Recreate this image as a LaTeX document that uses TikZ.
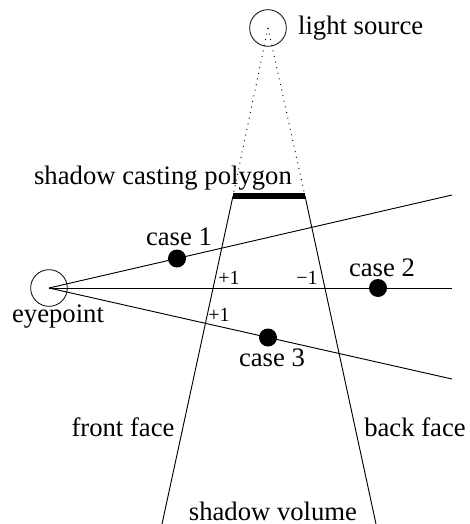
\documentclass[tikz,border=0pt]{standalone}
\usepackage{fontspec}
\setmainfont{Liberation Serif}
\usepackage{tikz}
\usetikzlibrary{positioning}

\begin{document}
\begin{tikzpicture}[
  x=0.75pt,y=-0.75pt,
  every node/.style={font=\fontsize{20}{24}\selectfont},
  lamp/.style={draw,circle,line width=0.6pt,minimum size=27.5pt,inner sep=0pt},
  dot/.style={circle,fill,inner sep=0pt,minimum size=13.5pt},
  sign/.style={font=\fontsize{15}{18}\selectfont,inner sep=1pt},
  ray/.style={line width=0.7pt},
  beam/.style={line width=0.7pt,dash pattern=on 0.7pt off 3.6pt},
  bar/.style={line width=4.8pt}
]
\useasboundingbox (0,0) rectangle (469,524);
% light source and eye
\node[lamp] (light) at (268,28) {};
\node[right=5pt of light] (lightlbl) {light source};
\node[lamp] (eye) at (49,288) {};
\node at (58,317) (eyelbl) {eyepoint};
% shadow casting polygon
\coordinate (pl) at (233,196);
\coordinate (pr) at (305,196);
\coordinate (fl) at (162,524);
\coordinate (fr) at (376,524);
\draw[bar] (pl) -- (pr);
\node at (163,178) (polylbl) {shadow casting polygon};
\draw[beam] (light.center) -- (pl);
\draw[beam] (light.center) -- (pr);
\draw[ray] (pl) -- (fl);
\draw[ray] (pr) -- (fr);
% rays from the eye
\coordinate (up) at (452,195);
\coordinate (mid) at (452,288);
\coordinate (low) at (452,379);
\draw[ray] (eye.center) -- (up);
\draw[ray] (eye.center) -- (mid);
\draw[ray] (eye.center) -- (low);
\node[dot] (c1) at (177,258.5) {};
\node[dot] (c2) at (378,288) {};
\node[dot] (c3) at (268,337.5) {};
\node at (179,237) (c1lbl) {case 1};
\node at (382,268) (c2lbl) {case 2};
\node at (272,358) (c3lbl) {case 3};
% counts
\node[sign] at (229,278) (in1) {+1};
\node[sign] at (307,278) (out1) {−1};
\node[sign] at (219,315) (in2) {+1};
% faces
\node at (123,427) (frontlbl) {front face};
\node at (415,427) (backlbl) {back face};
\node[inner sep=1pt] at (273,511) (vollbl) {shadow volume};
\end{tikzpicture}
\end{document}
